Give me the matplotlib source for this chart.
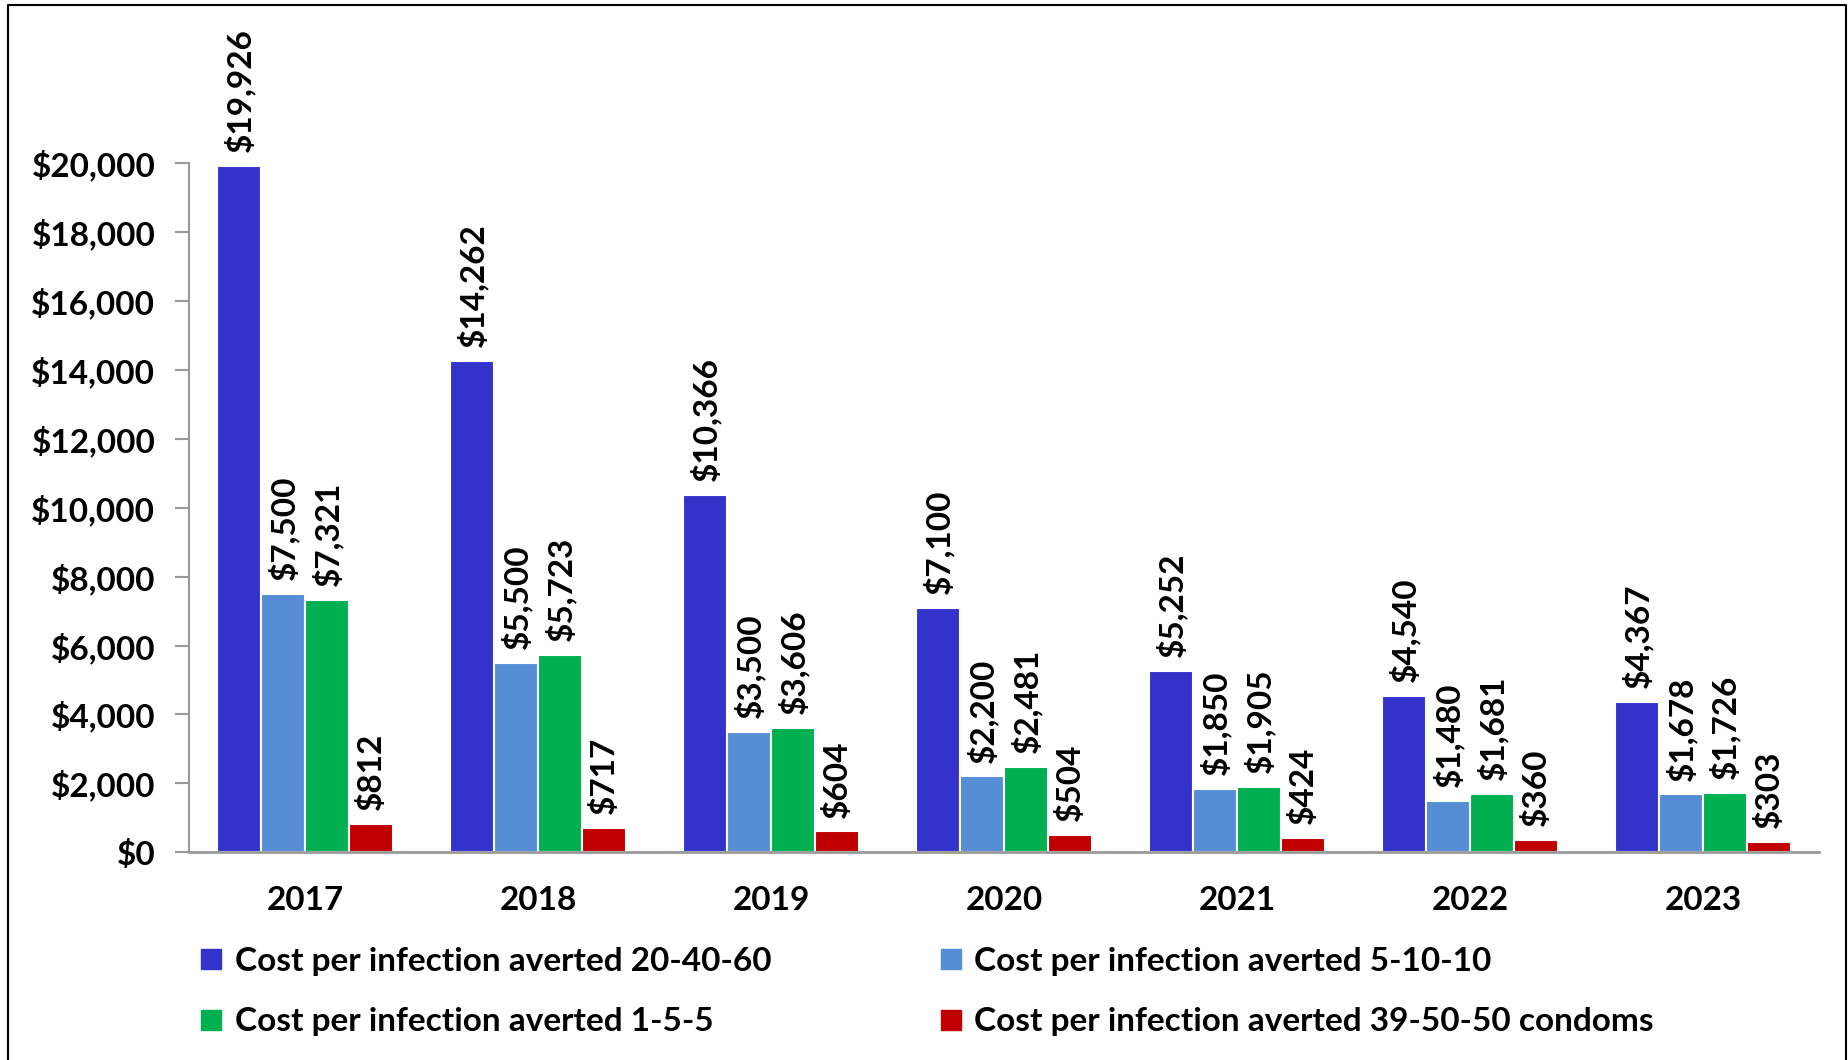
import matplotlib.pyplot as plt
from matplotlib.lines import Line2D
from matplotlib.ticker import FuncFormatter
import numpy as np

plt.rcParams['font.family'] = ['Lato', 'DejaVu Sans']
plt.rcParams['font.weight'] = 'bold'

# Data
years = ["2017", "2018", "2019", "2020", "2021", "2022", "2023"]
cost_20_40_60 = [19926, 14262, 10366, 7100, 5252, 4540, 4367]
cost_5_10_10 = [7500, 5500, 3500, 2200, 1850, 1480, 1678]
cost_1_5_5 = [7321, 5723, 3606, 2481, 1905, 1681, 1726]
cost_condoms = [812, 717, 604, 504, 424, 360, 303]

series_names = ["Cost per infection averted 20-40-60",
                "Cost per infection averted 5-10-10",
                "Cost per infection averted 1-5-5",
                "Cost per infection averted 39-50-50 condoms"]
colors = ["#3333CC", "#558ED5", "#00B050", "#C00000"]

fig = plt.figure(figsize=(18.49, 10.60), dpi=100)
ax = fig.add_axes([0.102, 0.196, 0.882, 0.650])

x = np.arange(len(years))
w = 0.188
all_series = [cost_20_40_60, cost_5_10_10, cost_1_5_5, cost_condoms]
for i, (vals, c) in enumerate(zip(all_series, colors)):
    pos = x + (i - 1.5) * w
    ax.bar(pos, vals, width=w, color=c, edgecolor="white", linewidth=1.5)
    for p, v in zip(pos, vals):
        ax.annotate(f"${v:,}", (p, v), xytext=(0, 10), textcoords="offset points",
                    rotation=90, ha="center", va="bottom", fontsize=24,
                    fontweight="bold", annotation_clip=False)

ax.set_xlim(-0.5, 6.5)
ax.set_ylim(0, 20000)
ax.set_yticks(range(0, 20001, 2000))
ax.yaxis.set_major_formatter(FuncFormatter(lambda v, _: f"${int(v):,}"))
ax.set_xticks(x)
ax.set_xticklabels(years)
ax.tick_params(axis="x", length=0, pad=24, labelsize=24)
ax.tick_params(axis="y", length=10, width=1.5, color="#999999", pad=14, labelsize=24)
for s in ["top", "right"]:
    ax.spines[s].set_visible(False)
ax.spines["left"].set_color("#999999")
ax.spines["bottom"].set_color("#999999")
ax.spines["left"].set_linewidth(1.5)
ax.spines["bottom"].set_linewidth(2)

handles = [Line2D([], [], marker="s", linestyle="none", markersize=15, color=c) for c in colors]
order = [0, 2, 1, 3]  # row-major order for a 2-column legend
fig.legend([handles[i] for i in order], [series_names[i] for i in order],
           loc="upper left", bbox_to_anchor=(0.107, 0.107),
           ncol=2, frameon=False, fontsize=24, handlelength=0.8, handletextpad=0.3,
           columnspacing=5.0, labelspacing=0.95, borderaxespad=0, borderpad=0)

# outer border
fig.add_artist(Line2D([0.0045, 0.0045, 0.9985, 0.9985], [0.0, 0.9955, 0.9955, 0.0],
                      transform=fig.transFigure, color="black", linewidth=1.5))

fig.savefig("out.png", dpi=100)
